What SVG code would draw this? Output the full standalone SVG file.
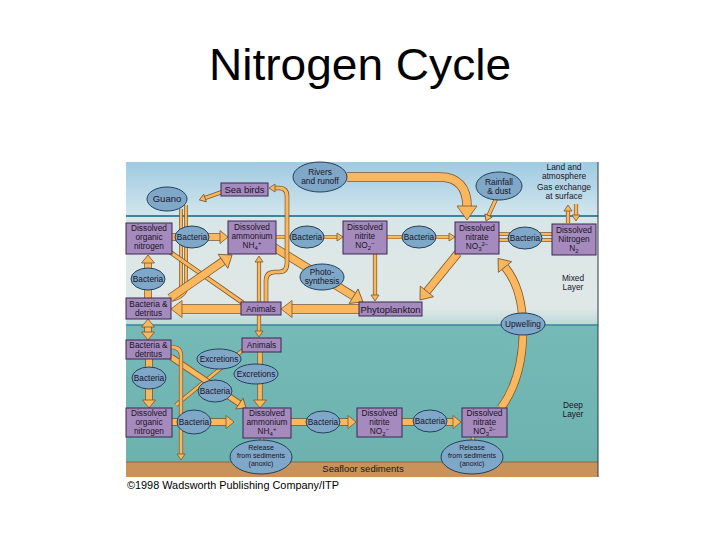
<svg xmlns="http://www.w3.org/2000/svg" width="720" height="540" viewBox="0 0 720 540">
<style>
.box{fill:#a58bbd;stroke:#3d2750;stroke-width:1}
.ell{fill:#7fa8c8;stroke:#23405c;stroke-width:1}
.t{font-family:"Liberation Sans",Arial,sans-serif;font-size:8.3px;fill:#1b1226;text-anchor:middle}
.lt{font-family:"Liberation Sans",Arial,sans-serif;font-size:9.5px;fill:#1b1226;text-anchor:middle}
.mt{font-family:"Liberation Sans",Arial,sans-serif;font-size:8.4px;fill:#1b1226;text-anchor:middle}
.rt{font-family:"Liberation Sans",Arial,sans-serif;font-size:7px;fill:#1b1226;text-anchor:middle}
.sub{font-size:6px}
.o{fill:none;stroke:#7d5526}
.f{fill:none;stroke:#f9b75f}
.head{fill:#f9b75f;stroke:#7d5526;stroke-width:0.8}
</style>
<defs>
<linearGradient id="sky" x1="0" y1="0" x2="0" y2="1">
<stop offset="0" stop-color="#9fcae2"/><stop offset="1" stop-color="#d2e6ec"/>
</linearGradient>
<linearGradient id="mix" x1="0" y1="0" x2="0" y2="1">
<stop offset="0" stop-color="#d9e6e6"/><stop offset="0.85" stop-color="#dfe8e6"/><stop offset="1" stop-color="#b9d8d8"/>
</linearGradient>
<linearGradient id="deep" x1="0" y1="0" x2="0" y2="1">
<stop offset="0" stop-color="#76bab7"/><stop offset="1" stop-color="#6cb2ae"/>
</linearGradient>
<marker id="hS" markerUnits="userSpaceOnUse" markerWidth="10" markerHeight="10" refX="0" refY="0" orient="auto-start-reverse" overflow="visible"><path class="head" d="M0,-4 L6,0 L0,4 Z"/></marker>
<marker id="hM" markerUnits="userSpaceOnUse" markerWidth="10" markerHeight="10" refX="0" refY="0" orient="auto-start-reverse" overflow="visible"><path class="head" d="M0,-6.5 L8,0 L0,6.5 Z"/></marker>
<marker id="hL" markerUnits="userSpaceOnUse" markerWidth="10" markerHeight="10" refX="0" refY="0" orient="auto-start-reverse" overflow="visible"><path class="head" d="M0,-8.5 L11,0 L0,8.5 Z"/></marker>
<marker id="hXL" markerUnits="userSpaceOnUse" markerWidth="10" markerHeight="10" refX="0" refY="0" orient="auto-start-reverse" overflow="visible"><path class="head" d="M0,-10 L14,0 L0,10 Z"/></marker>
</defs>

<rect width="720" height="540" fill="#ffffff"/>
<text x="360" y="80" font-family="'Liberation Sans',Arial,sans-serif" font-size="44" text-anchor="middle" fill="#000" textLength="302" lengthAdjust="spacingAndGlyphs">Nitrogen Cycle</text>

<g id="background">
<rect x="126" y="162" width="472" height="54" fill="url(#sky)"/>
<rect x="126" y="216" width="472" height="109" fill="url(#mix)"/>
<rect x="126" y="325" width="472" height="137" fill="url(#deep)"/>
<rect x="126" y="462" width="472" height="15" fill="#c7935b"/>
<line x1="126" y1="462" x2="598" y2="462" stroke="#8a6a45" stroke-width="1"/>
<line x1="126" y1="216" x2="598" y2="216" stroke="#3c84a0" stroke-width="2"/>
<line x1="126" y1="325" x2="598" y2="325" stroke="#3c84a0" stroke-width="1.5"/>
<line x1="598" y1="162" x2="598" y2="477" stroke="#2a3a40" stroke-width="1"/>
</g>

<g id="connectors">
<path class="o" stroke-width="7.5" d="M172,237 H220"/><path class="f" stroke-width="6" d="M172,237 H220" marker-end="url(#hM)"/>
<path class="o" stroke-width="4.2" d="M276,237 H337"/><path class="f" stroke-width="2.8" d="M276,237 H337" marker-end="url(#hS)"/>
<path class="o" stroke-width="4.2" d="M387,237 H449"/><path class="f" stroke-width="2.8" d="M387,237 H449" marker-end="url(#hS)"/>
<path class="o" stroke-width="3.6" d="M499,234 H552 M499,240 H552"/><path class="f" stroke-width="2.2" d="M499,234 H552 M499,240 H552"/>
<path class="o" stroke-width="9.5" d="M347,177 L440,177 C458,177 467,188 467,206"/><path class="f" stroke-width="8" d="M347,177 L440,177 C458,177 467,188 467,206" marker-end="url(#hXL)"/>
<path class="o" stroke-width="4.2" d="M496,199 L488.5,215.5"/><path class="f" stroke-width="2.8" d="M496,199 L488.5,215.5" marker-end="url(#hS)"/>
<path class="o" stroke-width="4.2" d="M568,223 V211 M576,204 V215"/><path class="f" stroke-width="2.8" d="M568,223 V211" marker-end="url(#hS)"/><path class="f" stroke-width="2.8" d="M576,204 V215" marker-end="url(#hS)"/>
<path class="o" stroke-width="8.5" d="M458,253 L426.9,291.4"/><path class="f" stroke-width="7" d="M458,253 L426.9,291.4" marker-end="url(#hL)"/>
<path class="o" stroke-width="4.2" d="M375,254 V295"/><path class="f" stroke-width="2.8" d="M375,254 V295" marker-end="url(#hS)"/>
<path class="o" stroke-width="8.5" d="M272,246 L353.6,296.2"/><path class="f" stroke-width="7" d="M272,246 L353.6,296.2" marker-end="url(#hL)"/>
<path class="o" stroke-width="9.5" d="M359,309 H292"/><path class="f" stroke-width="8" d="M359,309 H292" marker-end="url(#hL)"/>
<path class="o" stroke-width="9.5" d="M241,309 H182"/><path class="f" stroke-width="8" d="M241,309 H182" marker-end="url(#hL)"/>
<path class="o" stroke-width="4.6" d="M266,302 V281 Q266,272 275,272 H279 Q287,272 287,263 V196 Q287,188 279,188 H275"/><path class="f" stroke-width="3.2" d="M266,302 V281 Q266,272 275,272 H279 Q287,272 287,263 V196 Q287,188 279,188 H275" marker-end="url(#hS)"/>
<path class="o" stroke-width="4.2" d="M222,192 L205,198"/><path class="f" stroke-width="2.8" d="M222,192 L205,198" marker-end="url(#hS)"/>
<path class="o" stroke-width="3.6" d="M181,209 V285 Q181,293 172,297 M186,205 V288 Q186,296 172,300"/><path class="f" stroke-width="2.2" d="M181,209 V285 Q181,293 172,297 M186,205 V288 Q186,296 172,300"/>
<path class="o" stroke-width="4.6" d="M170,252 L243,303"/><path class="f" stroke-width="3.2" d="M170,252 L243,303"/>
<path class="o" stroke-width="8.5" d="M170,298 L223,261.3"/><path class="f" stroke-width="7" d="M170,298 L223,261.3" marker-end="url(#hL)"/>
<path class="o" stroke-width="7.5" d="M148,298 V263"/><path class="f" stroke-width="6" d="M148,298 V263" marker-end="url(#hM)"/>
<path class="o" stroke-width="4.2" d="M259,262 V331"/><path class="f" stroke-width="2.8" d="M259,262 V331" marker-start="url(#hS)" marker-end="url(#hS)"/>
<path class="o" stroke-width="7.5" d="M148,327 V332"/><path class="f" stroke-width="6" d="M148,327 V332" marker-start="url(#hM)" marker-end="url(#hM)"/>
<path class="o" stroke-width="7.5" d="M149,359 V400"/><path class="f" stroke-width="6" d="M149,359 V400" marker-end="url(#hM)"/>
<path class="o" stroke-width="7.5" d="M172,422 H226"/><path class="f" stroke-width="6" d="M172,422 H226" marker-end="url(#hM)"/>
<path class="o" stroke-width="7.5" d="M291,422 H348"/><path class="f" stroke-width="6" d="M291,422 H348" marker-end="url(#hM)"/>
<path class="o" stroke-width="7.5" d="M402,422 H453"/><path class="f" stroke-width="6" d="M402,422 H453" marker-end="url(#hM)"/>
<path class="o" stroke-width="8.5" d="M501,408 C514,390 523,365 523,330 C523,305 518,283 505,267"/><path class="f" stroke-width="7" d="M501,408 C514,390 523,365 523,330 C523,305 518,283 505,267" marker-end="url(#hL)"/>
<path class="o" stroke-width="5.2" d="M260,352 V400"/><path class="f" stroke-width="3.8" d="M260,352 V400" marker-end="url(#hM)"/>
<path class="o" stroke-width="4.2" d="M243,350 L176,405"/><path class="f" stroke-width="2.8" d="M243,350 L176,405"/>
<path class="o" stroke-width="6.5" d="M171,357 L239.4,403.5"/><path class="f" stroke-width="5" d="M171,357 L239.4,403.5" marker-end="url(#hM)"/>
<path class="o" stroke-width="4.2" d="M171,347 Q181,347 181,356 V454"/><path class="f" stroke-width="2.8" d="M171,347 Q181,347 181,356 V454" marker-end="url(#hS)"/>
<path class="o" stroke-width="4.2" d="M262,437 V441 M473,436 V441"/><path class="f" stroke-width="2.8" d="M262,437 V441 M473,436 V441"/>
</g>

<g id="don-mixed"><rect class="box" x="126" y="223" width="46" height="31"/><text class="t" x="149" y="231">Dissolved</text><text class="t" x="149" y="240">organic</text><text class="t" x="149" y="249">nitrogen</text></g>
<g id="bact-m1"><ellipse class="ell" cx="192" cy="237" rx="17" ry="11"/><text class="t" x="192" y="240">Bacteria</text></g>
<g id="amm-mixed"><rect class="box" x="228" y="221" width="48" height="33"/><text class="t" x="252" y="230">Dissolved</text><text class="t" x="252" y="239">ammonium</text><text class="t" x="252" y="248">NH<tspan class="sub" dy="2">4</tspan><tspan class="sub" dy="-5">+</tspan></text></g>
<g id="bact-m2"><ellipse class="ell" cx="307" cy="237" rx="17" ry="11"/><text class="t" x="307" y="240">Bacteria</text></g>
<g id="nitrite-mixed"><rect class="box" x="343" y="221" width="44" height="33"/><text class="t" x="365" y="230">Dissolved</text><text class="t" x="365" y="239">nitrite</text><text class="t" x="365" y="248">NO<tspan class="sub" dy="2">2</tspan><tspan class="sub" dy="-5">−</tspan></text></g>
<g id="bact-m3"><ellipse class="ell" cx="419" cy="237" rx="17" ry="11"/><text class="t" x="419" y="240">Bacteria</text></g>
<g id="nitrate-mixed"><rect class="box" x="455" y="222" width="44" height="32"/><text class="t" x="477" y="231">Dissolved</text><text class="t" x="477" y="240">nitrate</text><text class="t" x="477" y="249">NO<tspan class="sub" dy="2">3</tspan><tspan class="sub" dy="-5">2−</tspan></text></g>
<g id="bact-m4"><ellipse class="ell" cx="525" cy="238" rx="17" ry="11"/><text class="t" x="525" y="241">Bacteria</text></g>
<g id="n2"><rect class="box" x="552" y="224" width="44" height="31"/><text class="t" x="574" y="233">Dissolved</text><text class="t" x="574" y="242">Nitrogen</text><text class="t" x="574" y="251">N<tspan class="sub" dy="2">2</tspan></text></g>
<g id="guano"><ellipse class="ell" cx="167" cy="199" rx="20" ry="12"/><text class="lt" x="167" y="202">Guano</text></g>
<g id="seabirds"><rect class="box" x="221" y="183" width="47" height="13"/><text class="lt" x="244.5" y="193">Sea birds</text></g>
<g id="rivers"><ellipse class="ell" cx="320" cy="177" rx="27" ry="15"/><text class="mt" x="320" y="175">Rivers</text><text class="mt" x="320" y="184">and runoff</text></g>
<g id="rainfall"><ellipse class="ell" cx="499" cy="186" rx="23" ry="14"/><text class="mt" x="499" y="185">Rainfall</text><text class="mt" x="499" y="194">&amp; dust</text></g>
<g id="land"><text class="mt" x="564" y="170">Land and</text><text class="mt" x="564" y="179">atmosphere</text><text class="mt" x="564" y="190">Gas exchange</text><text class="mt" x="564" y="199">at surface</text></g>
<g id="bact-mleft"><ellipse class="ell" cx="148" cy="279" rx="17" ry="11"/><text class="t" x="148" y="282">Bacteria</text></g>
<g id="bd-mixed"><rect class="box" x="126" y="298" width="45" height="21"/><text class="t" x="148.5" y="307">Bacteria &amp;</text><text class="t" x="148.5" y="316">detritus</text></g>
<g id="photo"><ellipse class="ell" cx="322" cy="277" rx="22" ry="13"/><text class="t" x="322" y="275">Photo-</text><text class="t" x="322" y="284">synthesis</text></g>
<g id="animals-mixed"><rect class="box" x="241" y="302" width="40" height="13"/><text class="t" x="261" y="312">Animals</text></g>
<g id="phyto"><rect class="box" x="359" y="302" width="63" height="14"/><text class="lt" x="390.5" y="312.5">Phytoplankton</text></g>
<g id="upwelling"><ellipse class="ell" cx="523" cy="324" rx="22" ry="11"/><text class="t" x="523" y="327">Upwelling</text></g>
<g id="mixed-label"><text class="t" x="573" y="281">Mixed</text><text class="t" x="573" y="290">Layer</text></g>
<g id="deep-label"><text class="t" x="573" y="408">Deep</text><text class="t" x="573" y="417">Layer</text></g>
<g id="bd-deep"><rect class="box" x="126" y="340" width="45" height="19"/><text class="t" x="148.5" y="348">Bacteria &amp;</text><text class="t" x="148.5" y="357">detritus</text></g>
<g id="animals-deep"><rect class="box" x="242" y="338" width="39" height="14"/><text class="t" x="261.5" y="348">Animals</text></g>
<g id="excr-1"><ellipse class="ell" cx="219" cy="359" rx="22" ry="10"/><text class="t" x="219" y="362">Excretions</text></g>
<g id="excr-2"><ellipse class="ell" cx="256" cy="374" rx="22" ry="10"/><text class="t" x="256" y="377">Excretions</text></g>
<g id="bact-dleft"><ellipse class="ell" cx="149" cy="378" rx="17" ry="11"/><text class="t" x="149" y="381">Bacteria</text></g>
<g id="bact-d1"><ellipse class="ell" cx="215" cy="391" rx="17" ry="11"/><text class="t" x="215" y="394">Bacteria</text></g>
<g id="don-deep"><rect class="box" x="126" y="408" width="46" height="29"/><text class="t" x="149" y="416">Dissolved</text><text class="t" x="149" y="425">organic</text><text class="t" x="149" y="434">nitrogen</text></g>
<g id="bact-d2"><ellipse class="ell" cx="194" cy="422" rx="17" ry="12"/><text class="t" x="194" y="425">Bacteria</text></g>
<g id="amm-deep"><rect class="box" x="243" y="408" width="48" height="30"/><text class="t" x="267" y="416">Dissolved</text><text class="t" x="267" y="425">ammonium</text><text class="t" x="267" y="434">NH<tspan class="sub" dy="2">4</tspan><tspan class="sub" dy="-5">+</tspan></text></g>
<g id="bact-d3"><ellipse class="ell" cx="323" cy="422" rx="17" ry="11"/><text class="t" x="323" y="425">Bacteria</text></g>
<g id="nitrite-deep"><rect class="box" x="357" y="408" width="45" height="29"/><text class="t" x="379.5" y="416">Dissolved</text><text class="t" x="379.5" y="425">nitrite</text><text class="t" x="379.5" y="434">NO<tspan class="sub" dy="2">2</tspan><tspan class="sub" dy="-5">−</tspan></text></g>
<g id="bact-d4"><ellipse class="ell" cx="430" cy="421" rx="17" ry="11"/><text class="t" x="430" y="424">Bacteria</text></g>
<g id="nitrate-deep"><rect class="box" x="462" y="408" width="45" height="29"/><text class="t" x="484.5" y="416">Dissolved</text><text class="t" x="484.5" y="425">nitrate</text><text class="t" x="484.5" y="434">NO<tspan class="sub" dy="2">3</tspan><tspan class="sub" dy="-5">2−</tspan></text></g>
<g id="release-1"><ellipse class="ell" cx="261" cy="457" rx="31" ry="17"/><text class="rt" x="261" y="450">Release</text><text class="rt" x="261" y="458">from sediments</text><text class="rt" x="261" y="466">(anoxic)</text></g>
<g id="release-2"><ellipse class="ell" cx="472" cy="457" rx="31" ry="17"/><text class="rt" x="472" y="450">Release</text><text class="rt" x="472" y="458">from sediments</text><text class="rt" x="472" y="466">(anoxic)</text></g>
<g id="seafloor"><text class="lt" x="363" y="472">Seafloor sediments</text></g>
<text x="127" y="489" font-family="'Liberation Sans',Arial,sans-serif" font-size="10.5" fill="#000" textLength="212" lengthAdjust="spacingAndGlyphs">©1998 Wadsworth Publishing Company/ITP</text>
</svg>
